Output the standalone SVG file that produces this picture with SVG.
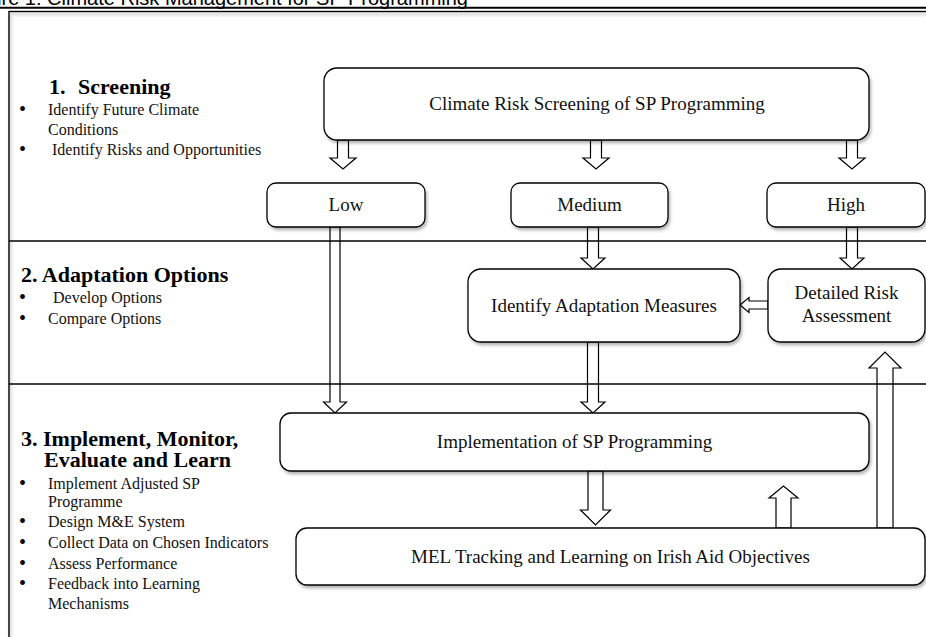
<svg xmlns="http://www.w3.org/2000/svg" width="926" height="637" viewBox="0 0 926 637">
<defs>
<filter id="sh" x="-5%" y="-10%" width="115%" height="140%">
<feDropShadow dx="1.5" dy="2.5" stdDeviation="1.5" flood-color="#000" flood-opacity="0.3"/>
</filter>
<style>
.box{fill:#fff;stroke:#000;stroke-width:1.3;filter:url(#sh)}
.arr{fill:#fff;stroke:#000;stroke-width:1.2;stroke-linejoin:miter}
.div{stroke:#000;stroke-width:1.5;fill:none}
.lbl{font-family:"Liberation Serif","Times New Roman",serif;font-size:19px;fill:#111;text-anchor:middle}
.hd{font-family:"Liberation Serif","Times New Roman",serif;font-size:22px;font-weight:bold;fill:#000}
.bl{font-family:"Liberation Serif","Times New Roman",serif;font-size:16px;fill:#111}
.dot{font-family:"Liberation Serif","Times New Roman",serif;font-size:20px;fill:#000}
.ttl{font-family:"Liberation Sans",Arial,sans-serif;font-size:20px;fill:#000}
</style>
</defs>
<rect width="926" height="637" fill="#fff"/>
<text class="ttl" x="468" y="5" text-anchor="end">Figure 1: Climate Risk Management for SP Programming</text>
<line x1="0" y1="7.7" x2="926" y2="7.7" stroke="#000" stroke-width="2"/>
<g id="frame">
<rect x="9" y="11.5" width="930" height="640" fill="none" stroke="#000" stroke-width="1.4" filter="url(#sh)"/>
</g>

<g id="sections">
<g id="sec1">
<text class="hd" x="49" y="94">1.</text>
<text class="hd" x="78" y="94">Screening</text>
<text class="dot" x="19" y="116">•</text>
<text class="bl" x="48" y="115">Identify Future Climate</text>
<text class="bl" x="48" y="135">Conditions</text>
<text class="dot" x="19" y="156">•</text>
<text class="bl" x="52" y="155">Identify Risks and Opportunities</text>
</g>
<g id="sec2">
<text class="hd" x="21" y="282">2. Adaptation Options</text>
<text class="dot" x="19" y="304">•</text>
<text class="bl" x="53" y="303">Develop Options</text>
<text class="dot" x="19" y="325">•</text>
<text class="bl" x="48" y="324">Compare Options</text>
</g>
<g id="sec3">
<text class="hd" x="21" y="446">3. Implement, Monitor,</text>
<text class="hd" x="44" y="467">Evaluate and Learn</text>
<text class="dot" x="19" y="490">•</text>
<text class="bl" x="48" y="489">Implement Adjusted SP</text>
<text class="bl" x="48" y="507">Programme</text>
<text class="dot" x="19" y="528">•</text>
<text class="bl" x="48" y="527">Design M&amp;E System</text>
<text class="dot" x="19" y="549">•</text>
<text class="bl" x="48" y="548">Collect Data on Chosen Indicators</text>
<text class="dot" x="19" y="570">•</text>
<text class="bl" x="48" y="569">Assess Performance</text>
<text class="dot" x="19" y="590">•</text>
<text class="bl" x="48" y="589">Feedback into Learning</text>
<text class="bl" x="48" y="609">Mechanisms</text>
</g>
</g>

<g id="connectors">
<path class="arr" d="M337.5,140 L348.5,140 L348.5,158 L356,158 L343,169 L330,158 L337.5,158 Z"/>
<path class="arr" d="M590.5,140 L601.5,140 L601.5,158 L609,158 L596,169 L583,158 L590.5,158 Z"/>
<path class="arr" d="M846.5,140 L857.5,140 L857.5,158 L865,158 L852,169 L839,158 L846.5,158 Z"/>
<path class="arr" d="M330,227 L340,227 L340,402 L346.5,402 L335,413 L323.5,402 L330,402 Z"/>
<path class="arr" d="M587.5,227 L598.5,227 L598.5,258 L605,258 L593,269 L581,258 L587.5,258 Z"/>
<path class="arr" d="M846.5,227 L857.5,227 L857.5,258 L864,258 L852,269 L840,258 L846.5,258 Z"/>
<path class="arr" d="M587.5,342 L598.5,342 L598.5,402 L605,402 L593,413 L581,402 L587.5,402 Z"/>
<path class="arr" d="M588,471 L603,471 L603,510 L610.5,510 L595.5,525 L580.5,510 L588,510 Z"/>
<path class="arr" d="M776,528 L791,528 L791,498 L798,498 L783.5,486 L769,498 L776,498 Z"/>
<path class="arr" d="M877,528 L893,528 L893,368 L901,368 L885,352 L869,368 L877,368 Z"/>
<path class="arr" d="M768,301 L768,309 L749,309 L749,312.5 L740,305 L749,297.5 L749,301 Z"/>
</g>

<g id="dividers">
<line class="div" x1="9" y1="241" x2="926" y2="241"/>
<line class="div" x1="9" y1="384" x2="926" y2="384"/>
</g>

<g id="climate-screening">
<rect class="box" x="324" y="68" width="545" height="72" rx="13"/>
<text class="lbl" x="597" y="110">Climate Risk Screening of SP Programming</text>
</g>
<g id="low">
<rect class="box" x="267" y="183" width="158" height="44" rx="9"/>
<text class="lbl" x="346" y="211">Low</text>
</g>
<g id="medium">
<rect class="box" x="511" y="183" width="157" height="44" rx="9"/>
<text class="lbl" x="589.5" y="211">Medium</text>
</g>
<g id="high">
<rect class="box" x="767" y="183" width="158" height="44" rx="9"/>
<text class="lbl" x="846" y="211">High</text>
</g>
<g id="identify-adaptation">
<rect class="box" x="468" y="269" width="272" height="73" rx="13"/>
<text class="lbl" x="604" y="312">Identify Adaptation Measures</text>
</g>
<g id="detailed-risk">
<rect class="box" x="768" y="269" width="157" height="73" rx="13"/>
<text class="lbl" x="846.5" y="299">Detailed Risk</text>
<text class="lbl" x="846.5" y="322">Assessment</text>
</g>
<g id="implementation">
<rect class="box" x="280" y="413" width="589" height="58" rx="11"/>
<text class="lbl" x="574.5" y="448">Implementation of SP Programming</text>
</g>
<g id="mel">
<rect class="box" x="296" y="528" width="629" height="57" rx="11"/>
<text class="lbl" x="610.5" y="563">MEL Tracking and Learning on Irish Aid Objectives</text>
</g>
</svg>
